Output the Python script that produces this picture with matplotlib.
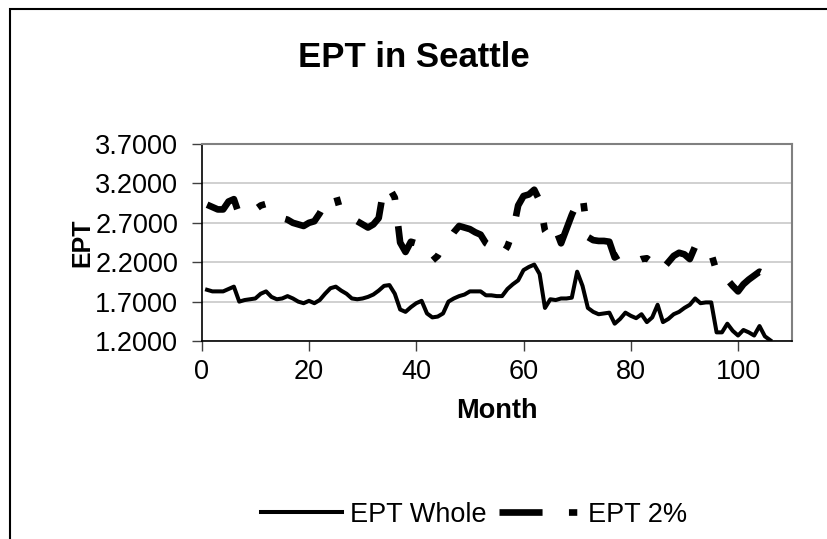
import matplotlib
matplotlib.use("Agg")
import matplotlib.pyplot as plt
from matplotlib.patches import Rectangle

plt.rcParams['font.family'] = ['Liberation Sans', 'DejaVu Sans']
plt.rcParams['lines.scale_dashes'] = False

# Data
months = list(range(1, 107))

ept_whole = [
    1.85, 1.83, 1.83, 1.83, 1.86, 1.89, 1.70, 1.72, 1.73, 1.74,
    1.80, 1.83, 1.76, 1.73, 1.74, 1.77, 1.74, 1.70, 1.68, 1.71,
    1.68, 1.72, 1.80, 1.87, 1.89, 1.84, 1.80, 1.74, 1.73, 1.74,
    1.76, 1.79, 1.84, 1.90, 1.91, 1.80, 1.60, 1.57, 1.63, 1.68,
    1.71, 1.55, 1.50, 1.51, 1.55, 1.70, 1.74, 1.77, 1.79, 1.83,
    1.83, 1.83, 1.78, 1.78, 1.77, 1.77, 1.86, 1.92, 1.97, 2.10,
    2.14, 2.17, 2.05, 1.62, 1.73, 1.72, 1.74, 1.74, 1.75, 2.08,
    1.90, 1.62, 1.57, 1.54, 1.55, 1.56, 1.42, 1.48, 1.56, 1.52,
    1.49, 1.54, 1.44, 1.50, 1.66, 1.44, 1.48, 1.54, 1.57, 1.62,
    1.66, 1.74, 1.68, 1.69, 1.69, 1.31, 1.31, 1.42, 1.33, 1.27,
    1.34, 1.31, 1.27, 1.39, 1.26, 1.21,
]

ept_2pct = [
    2.93, 2.90, 2.87, 2.87, 2.97, 3.00, 2.80, 2.84, 2.86, 2.87,
    2.92, 2.94, 2.84, 2.78, 2.76, 2.74, 2.70, 2.68, 2.66, 2.70,
    2.72, 2.82, 2.95, 3.02, 3.06, 2.82, 2.78, 2.76, 2.72, 2.68,
    2.64, 2.68, 2.76, 3.16, 3.14, 3.02, 2.45, 2.33, 2.46, 2.44,
    2.38, 2.34, 2.22, 2.28, 2.40, 2.48, 2.58, 2.66, 2.64, 2.62,
    2.58, 2.55, 2.44, 2.40, 2.32, 2.29, 2.40, 2.58, 2.92, 3.04,
    3.06, 3.12, 2.98, 2.60, 2.50, 2.62, 2.44, 2.62, 2.80, 2.95,
    3.05, 2.52, 2.48, 2.47, 2.47, 2.46, 2.26, 2.30, 2.22, 2.20,
    2.21, 2.24, 2.25, 2.20, 2.24, 2.12, 2.20, 2.28, 2.32, 2.30,
    2.24, 2.40, 2.32, 2.36, 2.31, 2.08, 1.96, 1.98, 1.90, 1.83,
    1.92, 1.98, 2.03, 2.08, 2.05, 1.89,
]

y_ticks = [1.2, 1.7, 2.2, 2.7, 3.2, 3.7]
x_ticks = [0, 20, 40, 60, 80, 100]

fig = plt.figure(figsize=(8.27, 5.39), dpi=100)
ax = fig.add_axes([0.2439, 0.3673, 0.7134, 0.3655])

ax.plot(months, ept_whole, color='black', linewidth=2.9, label='EPT Whole',
        solid_joinstyle='round')
ax.plot(months, ept_2pct, color='black', linewidth=4.8, label='EPT 2%',
        linestyle=(0, (31, 19, 6, 19)), dash_capstyle='butt')

ax.set_xlim(0, 110)
ax.set_ylim(1.2, 3.7)
ax.set_xticks(x_ticks)
ax.set_yticks(y_ticks)
ax.set_yticklabels([f'{v:.4f}' for v in y_ticks])
ax.grid(axis='y', color='#c8c8c8', linewidth=1.2)
ax.set_axisbelow(True)

for side in ['top', 'right']:
    ax.spines[side].set_color('#808080')
    ax.spines[side].set_linewidth(1.5)
for side in ['left', 'bottom']:
    ax.spines[side].set_color('black')
    ax.spines[side].set_linewidth(1.2)

ax.tick_params(axis='both', direction='out', length=7, width=1.0,
               color='#404040', labelsize=19.5)
ax.tick_params(axis='y', pad=10)
ax.tick_params(axis='x', pad=6)

ax.set_xlabel('Month', fontsize=19.5, fontweight='bold')
ax.set_ylabel('EPT', fontsize=18, fontweight='bold')
ax.xaxis.set_label_coords(0.5, -0.29)
ax.yaxis.set_label_coords(-0.182, 0.5)

fig.text(0.5, 0.894, 'EPT in Seattle', fontsize=25, fontweight='bold',
         ha='center', va='center')

fig.legend(loc='center', bbox_to_anchor=(0.573, 0.045), ncol=2,
           frameon=False, fontsize=19.5, handlelength=3.0,
           handletextpad=0.3, columnspacing=0.45)

# chart area border (runs off the right and bottom edges)
fig.add_artist(Rectangle((0.0121, -0.05), 1.2, 0.9833 + 0.05,
                         transform=fig.transFigure, fill=False,
                         edgecolor='black', linewidth=1.5))

fig.savefig('out.png', dpi=100)
